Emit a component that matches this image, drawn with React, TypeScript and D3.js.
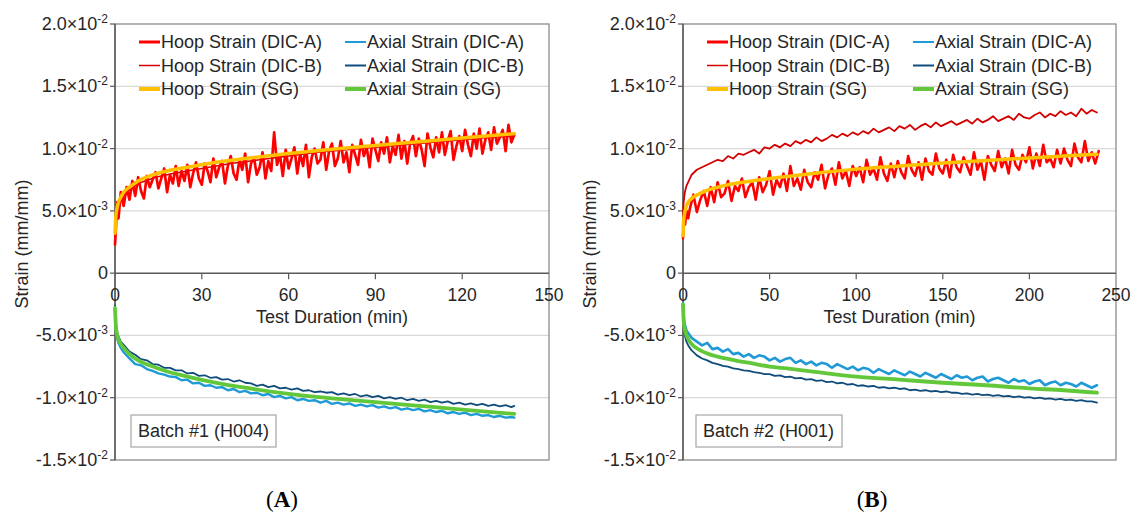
import React from 'react';
import * as d3 from 'd3';

// ---------- DATA (strain values in units of 10^-3 mm/mm, time in min) ----------
const Y_TICKS = [-15, -10, -5, 0, 5, 10, 15, 20];
const Y_TICK_MANTISSA = ['-1.5', '-1.0', '-5.0', '0', '5.0', '1.0', '1.5', '2.0'];
const Y_TICK_EXP = ['-2', '-2', '-3', '', '-3', '-2', '-2', '-2'];

const A_X_TICKS = [0, 30, 60, 90, 120, 150];
const B_X_TICKS = [0, 50, 100, 150, 200, 250];

const LEGEND_LABELS = [
  'Hoop Strain (DIC-A)', 'Hoop Strain (DIC-B)', 'Hoop Strain (SG)',
  'Axial Strain (DIC-A)', 'Axial Strain (DIC-B)', 'Axial Strain (SG)',
];

// ---- Panel A (Batch #1, H004) ----
const A_SG_T = [0, 0.3, 0.7, 1.2, 2, 3, 5, 8, 12, 18, 25, 35, 45, 60, 75, 90, 105, 120, 138];
const A_HOOP_SG = [3.2, 4.6, 5.2, 5.7, 6.1, 6.5, 6.9, 7.4, 7.8, 8.2, 8.5, 8.9, 9.2, 9.6, 9.95, 10.25, 10.55, 10.85, 11.2];
const A_AXIAL_SG = [-2.8, -4.2, -4.9, -5.3, -5.7, -6.0, -6.5, -7.0, -7.4, -7.9, -8.3, -8.8, -9.2, -9.7, -10.05, -10.35, -10.65, -10.95, -11.3];

const A_HOOP_T = [
  0, 0.3, 0.7, 1.2, 2, 3,
  4, 5, 6, 7, 8, 9, 10, 11, 12, 13,
  14, 15, 16, 17, 18, 19, 20, 21, 22, 23,
  24, 25, 26, 27, 28, 29, 30, 31, 32, 33,
  34, 35, 36, 37, 38, 39, 40, 41, 42, 43,
  44, 45, 46, 47, 48, 49, 50, 51, 52, 53,
  54, 55, 56, 57, 58, 59, 60, 61, 62, 63,
  64, 65, 66, 67, 68, 69, 70, 71, 72, 73,
  74, 75, 76, 77, 78, 79, 80, 81, 82, 83,
  84, 85, 86, 87, 88, 89, 90, 91, 92, 93,
  94, 95, 96, 97, 98, 99, 100, 101, 102, 103,
  104, 105, 106, 107, 108, 109, 110, 111, 112, 113,
  114, 115, 116, 117, 118, 119, 120, 121, 122, 123,
  124, 125, 126, 127, 128, 129, 130, 131, 132, 133,
  134, 135, 136, 137, 138,
];
const A_HOOP_DIC_A = [
  2.3, 3.5, 5.7, 4.4, 6.5, 5.4,
  6.9, 5.9, 7.4, 6.2, 7.7, 6.6, 6.0, 7.8, 6.9, 7.5,
  8.1, 6.8, 7.6, 8.4, 6.5, 7.9, 7.2, 8.6, 7.0, 8.2,
  7.4, 8.7, 6.9, 8.0, 8.9, 7.6, 7.1, 8.8, 8.2, 7.3,
  9.2, 7.7, 8.5, 9.0, 7.2, 8.6, 9.4, 8.0, 7.5, 9.1,
  8.3, 9.6, 7.3, 8.8, 9.3, 7.9, 8.5, 9.7, 7.6, 9.0,
  8.2, 11.3, 8.7, 9.5, 7.8, 9.9, 8.4, 9.2, 10.1, 8.0,
  9.6, 8.6, 10.3, 7.7, 9.3, 10.0, 8.8, 9.1, 10.5, 8.3,
  9.8, 10.4, 8.6, 9.2, 10.6, 8.9, 9.7, 8.1, 10.3, 9.5,
  8.7, 10.7, 9.4, 10.1, 8.5, 10.8, 9.9, 9.0, 10.5, 9.6,
  10.9, 8.9, 10.2, 9.5, 11.1, 9.2, 10.6, 8.8, 10.4, 11.0,
  9.4, 10.8, 9.9, 8.6, 11.2, 10.1, 9.3, 10.9, 9.7, 11.3,
  9.5, 10.6, 11.4, 9.1, 10.2, 11.0, 9.8, 11.5, 10.3, 9.4,
  11.2, 10.0, 11.6, 9.6, 10.7, 11.3, 9.9, 11.7, 10.4, 10.9,
  11.5, 9.8, 11.9, 10.5, 11.1,
];
const A_HOOP_B_T = [0, 0.5, 1, 2, 4, 8, 14, 20, 30, 40, 50, 60, 70, 80, 90, 100, 110, 120, 130, 138];
const A_HOOP_DIC_B = [3.0, 4.7, 5.3, 5.8, 6.5, 7.2, 7.7, 8.0, 8.4, 8.8, 9.1, 9.4, 9.7, 9.9, 10.1, 10.3, 10.5, 10.7, 10.9, 11.0];

const A_AX_T = [
  0, 0.3, 0.7, 1.2, 2, 3, 5,
  7, 9, 11, 13, 15, 17, 19, 21, 23, 25,
  27, 29, 31, 33, 35, 37, 39, 41, 43, 45,
  47, 49, 51, 53, 55, 57, 59, 61, 63, 65,
  67, 69, 71, 73, 75, 77, 79, 81, 83, 85,
  87, 89, 91, 93, 95, 97, 99, 101, 103, 105,
  107, 109, 111, 113, 115, 117, 119, 121, 123, 125,
  127, 129, 131, 133, 135, 137, 138,
];
const A_AXIAL_DIC_A = [
  -2.9, -4.5, -5.2, -5.6, -6.0, -6.35, -6.85,
  -7.3, -7.4, -7.7, -7.85, -8.05, -8.15, -8.3, -8.35, -8.6, -8.55,
  -8.85, -8.8, -9.05, -9.0, -9.2, -9.15, -9.4, -9.3, -9.55, -9.45,
  -9.65, -9.6, -9.8, -9.7, -9.95, -9.85, -10.05, -9.95, -10.2, -10.1,
  -10.25, -10.2, -10.4, -10.25, -10.5, -10.4, -10.55, -10.45, -10.65, -10.55,
  -10.7, -10.6, -10.8, -10.7, -10.85, -10.75, -10.95, -10.85, -11.0, -10.9,
  -11.1, -11.0, -11.15, -11.05, -11.25, -11.15, -11.3, -11.2, -11.4, -11.3,
  -11.45, -11.4, -11.55, -11.45, -11.6, -11.55, -11.6,
];
const A_AXIAL_DIC_B = [
  -2.6, -4.0, -4.7, -5.1, -5.5, -5.75, -6.3,
  -6.55, -6.9, -7.0, -7.3, -7.35, -7.6, -7.6, -7.8, -7.8, -8.05,
  -8.0, -8.25, -8.2, -8.4, -8.35, -8.55, -8.5, -8.7, -8.6, -8.8,
  -8.85, -9.05, -8.95, -9.15, -9.05, -9.25, -9.2, -9.35, -9.25, -9.45,
  -9.4, -9.55, -9.5, -9.6, -9.55, -9.75, -9.65, -9.8, -9.7, -9.9,
  -9.8, -9.95, -9.85, -10.05, -9.95, -10.1, -10.0, -10.2, -10.1, -10.25,
  -10.15, -10.35, -10.25, -10.4, -10.3, -10.5, -10.4, -10.55, -10.45, -10.6,
  -10.5, -10.65, -10.55, -10.7, -10.6, -10.75, -10.65,
];

// ---- Panel B (Batch #2, H001) ----
const B_SG_T = [0, 0.3, 0.7, 1.2, 2, 3, 5, 10, 15, 20, 30, 40, 50, 60, 75, 100, 125, 150, 175, 200, 220, 239];
const B_HOOP_SG = [3.0, 4.1, 4.6, 5.0, 5.4, 5.7, 6.0, 6.4, 6.7, 6.9, 7.2, 7.4, 7.6, 7.75, 8.0, 8.35, 8.6, 8.85, 9.05, 9.25, 9.4, 9.55];
const B_AXIAL_SG = [-2.5, -3.6, -4.2, -4.6, -5.0, -5.3, -5.7, -6.2, -6.5, -6.7, -7.0, -7.25, -7.5, -7.65, -7.9, -8.3, -8.55, -8.8, -9.0, -9.25, -9.4, -9.6];

const B_HOOP_T = [
  0, 0.3, 0.7, 1.2, 2, 3,
  4, 6, 8, 10, 12, 14, 16, 18, 20, 22,
  24, 26, 28, 30, 32, 34, 36, 38, 40, 42,
  44, 46, 48, 50, 52, 54, 56, 58, 60, 62,
  64, 66, 68, 70, 72, 74, 76, 78, 80, 82,
  84, 86, 88, 90, 92, 94, 96, 98, 100, 102,
  104, 106, 108, 110, 112, 114, 116, 118, 120, 122,
  124, 126, 128, 130, 132, 134, 136, 138, 140, 142,
  144, 146, 148, 150, 152, 154, 156, 158, 160, 162,
  164, 166, 168, 170, 172, 174, 176, 178, 180, 182,
  184, 186, 188, 190, 192, 194, 196, 198, 200, 202,
  204, 206, 208, 210, 212, 214, 216, 218, 220, 222,
  224, 226, 228, 230, 232, 234, 236, 238, 240,
];
const B_HOOP_DIC_A = [
  2.8, 3.6, 4.4, 3.9, 5.0, 4.4,
  5.2, 6.3, 4.9, 5.9, 6.6, 5.4, 6.9, 5.7, 7.3, 6.1,
  6.4, 7.4, 5.8, 7.0, 6.6, 7.6, 6.1, 6.9, 7.3, 5.9,
  7.7, 6.5, 7.1, 8.2, 6.3, 7.5, 6.9, 8.0, 6.6, 8.6,
  7.0, 7.6, 6.7, 8.3, 7.3, 6.9, 8.1, 7.5, 8.7, 6.8,
  7.9, 8.4, 7.1, 8.9, 7.6, 8.2, 7.0, 8.6, 7.8, 8.5,
  7.3, 9.1, 7.9, 8.4, 7.5, 9.3, 8.0, 7.4, 8.8, 7.7,
  9.0, 8.1, 7.6, 9.4, 8.3, 7.8, 8.9, 7.5, 9.2, 8.2,
  7.9, 9.6, 8.4, 8.0, 9.1, 7.7, 9.5, 8.5, 8.1, 9.3,
  8.6, 7.9, 9.7, 8.3, 9.0, 7.5, 9.4, 8.7, 8.2, 9.8,
  8.5, 9.2, 8.0, 9.9, 8.7, 8.3, 9.5, 8.9, 10.1, 8.4,
  9.6, 8.6, 10.3, 8.9, 9.2, 8.5, 9.9, 8.8, 10.0, 9.1,
  8.6, 10.4, 9.3, 8.9, 10.6, 9.0, 9.7, 8.8, 9.8,
];

const B_AX_T = [
  0, 0.3, 0.7, 1.2, 2, 3, 5,
  8, 11, 14, 17, 20, 23, 26, 29, 32, 35,
  38, 41, 44, 47, 50, 53, 56, 59, 62, 65,
  68, 71, 74, 77, 80, 83, 86, 89, 92, 95,
  98, 101, 104, 107, 110, 113, 116, 119, 122, 125,
  128, 131, 134, 137, 140, 143, 146, 149, 152, 155,
  158, 161, 164, 167, 170, 173, 176, 179, 182, 185,
  188, 191, 194, 197, 200, 203, 206, 209, 212, 215,
  218, 221, 224, 227, 230, 233, 236, 239,
];
const B_HOOP_DIC_B = [
  4.6, 5.6, 6.1, 6.6, 7.0, 7.3, 7.9,
  8.3, 8.5, 8.7, 8.9, 9.1, 9.0, 9.4, 9.2, 9.6, 9.5,
  9.7, 9.9, 9.6, 10.1, 10.0, 10.3, 10.1, 10.4, 10.2, 10.6,
  10.4, 10.7, 10.5, 10.9, 10.6, 10.8, 11.1, 10.9, 11.2, 11.0,
  11.3, 11.1, 11.4, 11.2, 11.6, 11.3, 11.5, 11.7, 11.4, 11.8,
  11.6, 11.9, 11.5, 11.8, 12.0, 11.7, 12.1, 11.8, 12.0, 12.2,
  11.9, 12.1, 12.3, 12.0, 12.4, 12.1, 12.3, 12.6, 12.2, 12.4,
  12.6, 12.3, 12.8, 12.5, 12.4, 12.7, 12.9, 12.5, 12.8, 12.6,
  13.0, 12.7, 12.9, 12.6, 13.2, 12.8, 13.1, 12.9,
];
const B_AXIAL_DIC_A = [
  -2.4, -3.4, -3.9, -4.2, -4.6, -4.8, -5.2,
  -5.5, -5.8, -5.6, -6.1, -6.0, -6.3, -6.1, -6.5, -6.4, -6.7,
  -6.5, -6.8, -6.6, -6.7, -7.0, -6.8, -7.1, -6.9, -6.8, -7.2,
  -7.0, -7.3, -7.1, -7.4, -7.2, -7.3, -7.6, -7.3, -7.5, -7.7,
  -7.5, -7.8, -7.6, -7.7, -8.0, -7.7, -7.9, -8.1, -7.8, -8.0,
  -8.2, -7.9, -8.1, -8.3, -8.0, -8.2, -8.4, -8.1, -8.3, -8.5,
  -8.2, -8.4, -8.3, -8.6, -8.4, -8.3, -8.7, -8.5, -8.4, -8.6,
  -8.8, -8.5, -8.7, -8.6, -8.9, -8.7, -8.6, -9.0, -8.8, -8.7,
  -9.0, -8.8, -8.9, -9.1, -8.8, -9.0, -9.2, -9.0,
];
const B_AXIAL_DIC_B = [
  -2.6, -4.0, -4.7, -5.1, -5.5, -5.8, -6.2,
  -6.6, -6.85, -7.0, -7.2, -7.3, -7.45, -7.5, -7.65, -7.7, -7.8,
  -7.85, -7.95, -8.0, -8.1, -8.1, -8.25, -8.2, -8.35, -8.3, -8.45,
  -8.4, -8.55, -8.5, -8.65, -8.6, -8.75, -8.7, -8.85, -8.8, -8.95,
  -8.9, -9.05, -9.0, -9.1, -9.05, -9.2, -9.15, -9.25, -9.2, -9.3,
  -9.25, -9.4, -9.35, -9.45, -9.4, -9.5, -9.45, -9.55, -9.5, -9.6,
  -9.6, -9.7, -9.65, -9.75, -9.7, -9.8, -9.75, -9.85, -9.8, -9.9,
  -9.85, -9.95, -9.9, -10.0, -9.95, -10.05, -10.0, -10.1, -10.05, -10.15,
  -10.1, -10.2, -10.15, -10.25, -10.2, -10.3, -10.3, -10.4,
];

// ---------- STYLE ----------
const FONT = '"Liberation Sans", Arial, Helvetica, sans-serif';
const TEXT = '#262626';
const C_HOOP_A = '#ff0000';
const C_HOOP_B = '#d40000';
const C_HOOP_SG = '#ffc000';
const C_AX_A = '#1f9ad6';
const C_AX_B = '#0f4c7c';
const C_AX_SG = '#62c83a';

type Series = { t: number[]; v: number[]; color: string; width: number; smooth?: boolean };

function zip(t: number[], v: number[]): [number, number][] {
  const n = Math.min(t.length, v.length);
  const out: [number, number][] = [];
  for (let i = 0; i < n; i++) out.push([t[i], v[i]]);
  return out;
}

const TOP = 24;
const BOTTOM = 460;

function Panel(props: {
  left: number; right: number; xMax: number; xTicks: number[];
  series: Series[]; batch: string; boxX: number; boxW: number; label: string; labelX: number;
}) {
  const { left, right, xMax, xTicks, series, batch, boxX, boxW, label, labelX } = props;
  const x = d3.scaleLinear().domain([0, xMax]).range([left, right]);
  const y = d3.scaleLinear().domain([-15, 20]).range([BOTTOM, TOP]);
  const lineFor = (s: Series) =>
    d3.line<[number, number]>()
      .x(d => x(d[0]))
      .y(d => y(d[1]))
      .curve(s.smooth ? d3.curveMonotoneX : d3.curveLinear)(zip(s.t, s.v)) || '';
  const y0 = y(0);
  const legendRows = [42, 65.5, 89];
  const legendItems = [
    { c: C_HOOP_A, w: 3 }, { c: C_HOOP_B, w: 1.5 }, { c: C_HOOP_SG, w: 4 },
    { c: C_AX_A, w: 2 }, { c: C_AX_B, w: 2 }, { c: C_AX_SG, w: 4 },
  ];
  return (
    <g>
      {Y_TICKS.filter(t => t !== 0 && t !== 20 && t !== -15).map(t => (
        <line key={'g' + t} x1={left} x2={right} y1={y(t)} y2={y(t)} stroke="#d9d9d9" strokeWidth={1.2} />
      ))}
      <rect x={left} y={TOP} width={right - left} height={BOTTOM - TOP} fill="none" stroke="#8c8c8c" strokeWidth={1.3} />
      <line x1={left} x2={left} y1={TOP} y2={BOTTOM} stroke="#595959" strokeWidth={1.5} />
      {Y_TICKS.map((t, i) => (
        <g key={'yt' + t}>
          <line x1={left - 5} x2={left} y1={y(t)} y2={y(t)} stroke="#595959" strokeWidth={1.2} />
          <text x={left - 7} y={y(t) + 6} textAnchor="end" fontFamily={FONT} fontSize={18} fill={TEXT}>
            {Y_TICK_EXP[i] === '' ? Y_TICK_MANTISSA[i] : (
              <>
                {Y_TICK_MANTISSA[i] + '×10'}
                <tspan fontSize={12} dy={-7}>{Y_TICK_EXP[i]}</tspan>
              </>
            )}
          </text>
        </g>
      ))}
      <line x1={left} x2={right} y1={y0} y2={y0} stroke="#595959" strokeWidth={1.5} />
      {xTicks.map(t => (
        <g key={'xt' + t}>
          {t > 0 && t < xMax && <line x1={x(t)} x2={x(t)} y1={y0} y2={y0 + 6} stroke="#595959" strokeWidth={1.2} />}
          <text x={x(t)} y={y0 + 28} textAnchor="middle" fontFamily={FONT} fontSize={17.5} fill={TEXT}>{t}</text>
        </g>
      ))}
      <text x={(left + right) / 2} y={y0 + 50} textAnchor="middle" fontFamily={FONT} fontSize={18} fill={TEXT}>Test Duration (min)</text>
      <text transform={`translate(${left - 93},${(TOP + BOTTOM) / 2 + 2}) rotate(-90)`} textAnchor="middle" dominantBaseline="central"
        fontFamily={FONT} fontSize={18} fill={TEXT}>Strain (mm/mm)</text>
      {series.map((s, i) => (
        <path key={'s' + i} d={lineFor(s)} fill="none" stroke={s.color} strokeWidth={s.width}
          strokeLinejoin="round" strokeLinecap="round" />
      ))}
      {legendItems.map((it, i) => {
        const col = i < 3 ? 0 : 1;
        const row = i % 3;
        const sx = left + (col === 0 ? 24 : 230);
        const yy = legendRows[row];
        return (
          <g key={'lg' + i}>
            <line x1={sx} x2={sx + 21} y1={yy} y2={yy} stroke={it.c} strokeWidth={it.w} />
            <text x={sx + 22} y={yy} dominantBaseline="central" fontFamily={FONT} fontSize={18} fill={TEXT}>{LEGEND_LABELS[i]}</text>
          </g>
        );
      })}
      <rect x={boxX} y={415} width={boxW} height={32} fill="#ffffff" stroke="#a6a6a6" strokeWidth={1.2} />
      <text x={boxX + 7} y={431} dominantBaseline="central" fontFamily={FONT} fontSize={18} fill={TEXT}>{batch}</text>
      <text x={labelX} y={507} textAnchor="middle" fontFamily='"Liberation Serif", "Times New Roman", serif' fontSize={23} fill="#000">
        (<tspan fontWeight="bold">{label}</tspan>)
      </text>
    </g>
  );
}

export default function App() {
  const seriesA: Series[] = [
    { t: A_HOOP_B_T, v: A_HOOP_DIC_B, color: C_HOOP_B, width: 1.5 },
    { t: A_HOOP_T, v: A_HOOP_DIC_A, color: C_HOOP_A, width: 2.7 },
    { t: A_SG_T, v: A_HOOP_SG, color: C_HOOP_SG, width: 3.5, smooth: true },
    { t: A_AX_T, v: A_AXIAL_DIC_A, color: C_AX_A, width: 2.4 },
    { t: A_AX_T, v: A_AXIAL_DIC_B, color: C_AX_B, width: 1.8 },
    { t: A_SG_T, v: A_AXIAL_SG, color: C_AX_SG, width: 3.8, smooth: true },
  ];
  const seriesB: Series[] = [
    { t: B_AX_T, v: B_HOOP_DIC_B, color: C_HOOP_B, width: 1.8 },
    { t: B_HOOP_T, v: B_HOOP_DIC_A, color: C_HOOP_A, width: 2.6 },
    { t: B_SG_T, v: B_HOOP_SG, color: C_HOOP_SG, width: 3.5, smooth: true },
    { t: B_AX_T, v: B_AXIAL_DIC_A, color: C_AX_A, width: 2.6 },
    { t: B_AX_T, v: B_AXIAL_DIC_B, color: C_AX_B, width: 1.8 },
    { t: B_SG_T, v: B_AXIAL_SG, color: C_AX_SG, width: 3.8, smooth: true },
  ];
  return (
    <svg width={1136} height={512} style={{ position: 'absolute', left: 0, top: 0, background: '#fff' }}>
      <rect x={0} y={0} width={1136} height={512} fill="#fff" />
      <Panel left={115} right={549} xMax={150} xTicks={A_X_TICKS} series={seriesA}
        batch="Batch #1 (H004)" boxX={131} boxW={145} label="A" labelX={282} />
      <Panel left={683} right={1116} xMax={250} xTicks={B_X_TICKS} series={seriesB}
        batch="Batch #2 (H001)" boxX={696} boxW={146} label="B" labelX={872} />
    </svg>
  );
}
